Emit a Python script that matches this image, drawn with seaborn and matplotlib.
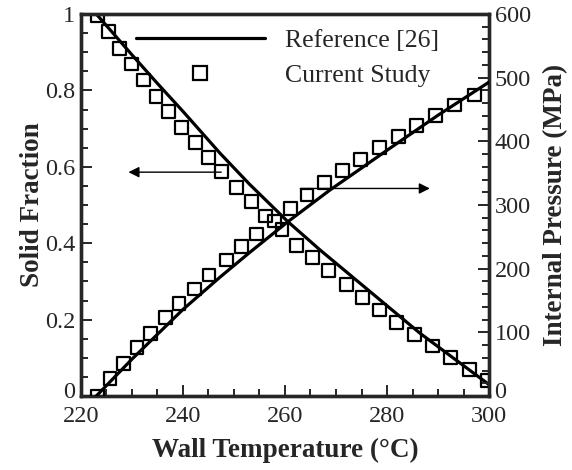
import numpy as np
import pandas as pd
import matplotlib
matplotlib.use("Agg")
import matplotlib.pyplot as plt
from matplotlib.lines import Line2D
from matplotlib.ticker import MultipleLocator, FuncFormatter
from matplotlib.transforms import ScaledTranslation
import seaborn as sns

# Reference curves (Reference [26])
ref_sf_temp = [223, 230, 235, 240, 247.3, 253, 260.6, 266.9, 275, 286.5, 300]
ref_sf = [1.0, 0.893, 0.818, 0.745, 0.635, 0.555, 0.456, 0.382, 0.292, 0.164, 0.03]

ref_p_temp = [223, 230, 235, 240, 247.3, 253, 260.6, 268.8, 275, 280, 290, 300]
ref_p = [0, 58, 97, 136, 187, 225, 274, 323.5, 358, 386, 441, 493]

# Current study results
cur_sf_temp = [223.2, 225.4, 227.6, 229.9, 232.2, 234.7, 237.2, 239.7, 242.4, 245.0,
               247.6, 250.5, 253.5, 256.2, 259.4, 262.3, 265.4, 268.6, 272.0, 275.2,
               278.5, 281.9, 285.4, 288.9, 292.5, 296.1, 299.7]
cur_sf = [0.995, 0.954, 0.910, 0.869, 0.827, 0.785, 0.744, 0.702, 0.663, 0.624,
          0.587, 0.546, 0.509, 0.471, 0.435, 0.395, 0.363, 0.328, 0.291, 0.258,
          0.225, 0.192, 0.162, 0.131, 0.100, 0.070, 0.040]

cur_p_temp = [223.2, 225.7, 228.3, 231.0, 233.7, 236.5, 239.2, 242.2, 245.1, 248.6,
              251.4, 254.4, 257.9, 261.0, 264.3, 267.8, 271.3, 274.8, 278.5, 282.2,
              285.8, 289.5, 293.2, 297.1]
cur_p = [0, 27.8, 51.3, 76.5, 98.4, 123, 145.6, 168, 190, 213.6,
         234.5, 254.4, 275, 294.8, 315.7, 335, 353.9, 372, 390, 407,
         424.5, 440, 457, 472.8]

sns.set_style("ticks")
plt.rcParams["font.family"] = ["Liberation Serif", "DejaVu Serif"]

fig = plt.figure(figsize=(5.72, 4.70), dpi=100)
ax = fig.add_axes([0.1416, 0.1574, 0.7133, 0.8128])
ax2 = ax.twinx()

lw = 2.3
sns.lineplot(x=ref_sf_temp, y=ref_sf, ax=ax, color="black", lw=lw, zorder=3)
sns.scatterplot(x=cur_sf_temp, y=cur_sf, ax=ax, marker="s", s=85,
                facecolor="none", edgecolor="black", linewidth=1.6, zorder=4)

sns.lineplot(x=ref_p_temp, y=ref_p, ax=ax2, color="black", lw=lw, zorder=3)
sns.scatterplot(x=cur_p_temp, y=cur_p, ax=ax2, marker="s", s=85,
                facecolor="none", edgecolor="black", linewidth=1.6, zorder=4)

ax.set_xlim(220, 300)
ax.set_ylim(0, 1)
ax2.set_ylim(0, 600)

fs = 17.5
ax.xaxis.set_major_locator(MultipleLocator(20))
ax.xaxis.set_minor_locator(MultipleLocator(5))
ax.yaxis.set_major_locator(MultipleLocator(0.2))
ax.yaxis.set_minor_locator(MultipleLocator(0.05))
ax2.yaxis.set_major_locator(MultipleLocator(100))
ax2.yaxis.set_minor_locator(MultipleLocator(20))
ax.yaxis.set_major_formatter(FuncFormatter(lambda v, p: f"{v:g}"))

for a in (ax, ax2):
    a.tick_params(which="both", direction="in", labelsize=fs, width=1.4, pad=4)
    a.tick_params(which="major", length=8)
    a.tick_params(which="minor", length=5)
    for sp in a.spines.values():
        sp.set_linewidth(2.4)
        sp.set_visible(True)
ax.tick_params(axis="x", top=False, which="both", pad=7)
ax.tick_params(axis="y", right=False, which="both")

lab_fs = 19.5
ax.set_xlabel("Wall Temperature (°C)", fontsize=lab_fs, fontweight="bold", labelpad=8)
ax.set_ylabel("Solid Fraction", fontsize=lab_fs, fontweight="bold", labelpad=0)
ax2.set_ylabel("Internal Pressure (MPa)", fontsize=lab_fs, fontweight="bold", labelpad=9)

# Arrows pointing to the axis each curve belongs to
ax.annotate("", xy=(229.3, 0.586), xytext=(247.5, 0.586),
            arrowprops=dict(arrowstyle="-|>", color="black", lw=1.0,
                            mutation_scale=16, shrinkA=0, shrinkB=0))
ax2.annotate("", xy=(288.4, 326), xytext=(263.0, 326),
             arrowprops=dict(arrowstyle="-|>", color="black", lw=1.0,
                             mutation_scale=16, shrinkA=0, shrinkB=0))

leg_fs = 18.5
handles = [
    Line2D([], [], color="black", lw=lw),
    Line2D([], [], color="black", lw=0, marker="s", markersize=9.5,
           markerfacecolor="none", markeredgewidth=1.6),
]
ax.legend(handles, ["Reference [26]", "Current Study"], loc="upper left",
          bbox_to_anchor=(0.135, 0.96), frameon=False, fontsize=leg_fs,
          handlelength=5.0, handletextpad=0.78, labelspacing=0.44,
          borderpad=0, borderaxespad=0)

# Nudge the two "0" labels at the bottom corners up, clear of the x tick labels
fig.canvas.draw()
lift = ScaledTranslation(0, 4.5 / 72, fig.dpi_scale_trans)
for tick in ax.yaxis.get_major_ticks():
    if abs(tick.get_loc()) < 1e-9:
        tick.label1.set_transform(tick.label1.get_transform() + lift)
for tick in ax2.yaxis.get_major_ticks():
    if abs(tick.get_loc()) < 1e-9:
        tick.label2.set_transform(tick.label2.get_transform() + lift)

fig.savefig("out.png", dpi=100)
